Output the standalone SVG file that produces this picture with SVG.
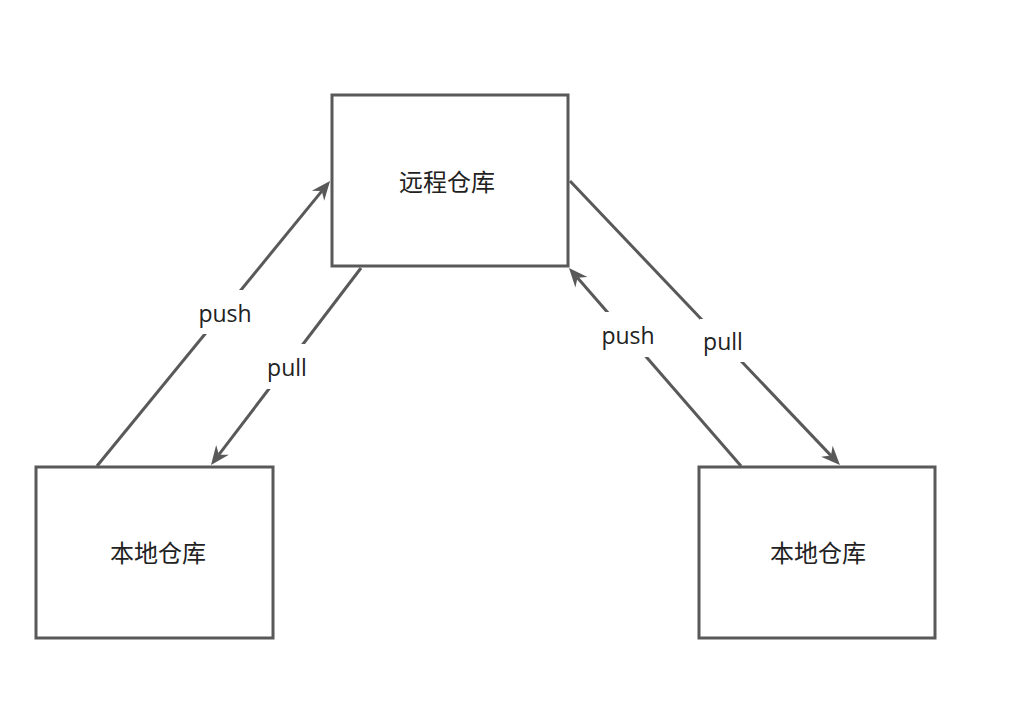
<svg xmlns="http://www.w3.org/2000/svg" width="1010" height="706" viewBox="0 0 1010 706">
<style>
.box{fill:#fff;stroke:#595959;stroke-width:3}
.edge{fill:none;stroke:#595959;stroke-width:3}
.cn{font-family:"Noto Sans CJK SC","Noto Sans",sans-serif;font-size:24px;fill:#222;text-anchor:middle;dominant-baseline:central}
.lbl{font-family:"Open Sans","Noto Sans",sans-serif;font-size:23px;fill:#222;text-anchor:middle}
.bg{fill:#fff}
</style>
<defs>
<marker id="arr" markerUnits="userSpaceOnUse" viewBox="-20 -9 21 18" markerWidth="21" markerHeight="18" refX="-13" refY="0" orient="auto">
<path d="M0,0 L-19,-8 L-13,0 L-19,8 Z" fill="#595959"/>
</marker>
</defs>
<rect width="1010" height="706" fill="#fff"/>
<g id="connectors">
<g id="e-left-push"><path class="edge" d="M97,466 L321.8,191.1" marker-end="url(#arr)"/><rect class="bg" x="197" y="290" width="56" height="44"/><text class="lbl" x="225" y="322">push</text></g>
<g id="e-left-pull"><path class="edge" d="M361,268 L218.9,454.7" marker-end="url(#arr)"/><rect class="bg" x="265" y="344" width="44" height="45"/><text class="lbl" x="287" y="376">pull</text></g>
<g id="e-right-push"><path class="edge" d="M741,466 L577.5,277.8" marker-end="url(#arr)"/><rect class="bg" x="600" y="312" width="55" height="45"/><text class="lbl" x="628" y="344">push</text></g>
<g id="e-right-pull"><path class="edge" d="M570,181 L831,455.6" marker-end="url(#arr)"/><rect class="bg" x="700" y="319" width="45" height="43"/><text class="lbl" x="723" y="350">pull</text></g>
</g>
<g id="remote"><rect class="box" x="332" y="95" width="236" height="171"/><text class="cn" x="447" y="180">远程仓库</text></g>
<g id="local-left"><rect class="box" x="36" y="467" width="237" height="171"/><text class="cn" x="158" y="551">本地仓库</text></g>
<g id="local-right"><rect class="box" x="699" y="467" width="236" height="171"/><text class="cn" x="818" y="551">本地仓库</text></g>
</svg>
